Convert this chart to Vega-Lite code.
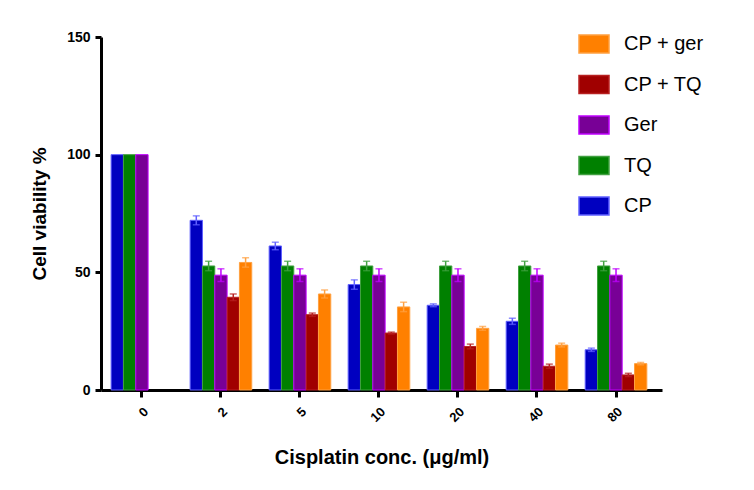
{
  "$schema": "https://vega.github.io/schema/vega-lite/v6.json",
  "width": 561,
  "height": 353,
  "autosize": {"type": "none"},
  "padding": {"left": 101, "top": 37, "right": 92, "bottom": 100},
  "background": "white",
  "config": {"view": {"stroke": null}, "font": "Liberation Sans"},
  "data": {
    "values": [
      {"conc": "0", "series": "CP", "value": 100, "lo": null, "hi": null},
      {"conc": "0", "series": "TQ", "value": 100, "lo": null, "hi": null},
      {"conc": "0", "series": "Ger", "value": 100, "lo": null, "hi": null},
      {"conc": "2", "series": "CP", "value": 72.1, "lo": 70.2, "hi": 74.0},
      {"conc": "2", "series": "TQ", "value": 52.7, "lo": 50.7, "hi": 54.7},
      {"conc": "2", "series": "Ger", "value": 48.8, "lo": 46.1, "hi": 51.5},
      {"conc": "2", "series": "CP + TQ", "value": 39.4, "lo": 38.0, "hi": 40.8},
      {"conc": "2", "series": "CP + ger", "value": 54.2, "lo": 52.2, "hi": 56.2},
      {"conc": "5", "series": "CP", "value": 61.2, "lo": 59.6, "hi": 62.8},
      {"conc": "5", "series": "TQ", "value": 52.7, "lo": 50.7, "hi": 54.7},
      {"conc": "5", "series": "Ger", "value": 48.8, "lo": 46.1, "hi": 51.5},
      {"conc": "5", "series": "CP + TQ", "value": 32.0, "lo": 31.3, "hi": 32.7},
      {"conc": "5", "series": "CP + ger", "value": 40.8, "lo": 39.1, "hi": 42.5},
      {"conc": "10", "series": "CP", "value": 44.8, "lo": 42.8, "hi": 46.8},
      {"conc": "10", "series": "TQ", "value": 52.7, "lo": 50.7, "hi": 54.7},
      {"conc": "10", "series": "Ger", "value": 48.8, "lo": 46.1, "hi": 51.5},
      {"conc": "10", "series": "CP + TQ", "value": 24.2, "lo": 23.8, "hi": 24.6},
      {"conc": "10", "series": "CP + ger", "value": 35.3, "lo": 33.3, "hi": 37.3},
      {"conc": "20", "series": "CP", "value": 36.0, "lo": 35.4, "hi": 36.6},
      {"conc": "20", "series": "TQ", "value": 52.7, "lo": 50.7, "hi": 54.7},
      {"conc": "20", "series": "Ger", "value": 48.8, "lo": 46.1, "hi": 51.5},
      {"conc": "20", "series": "CP + TQ", "value": 18.5, "lo": 17.5, "hi": 19.5},
      {"conc": "20", "series": "CP + ger", "value": 26.2, "lo": 25.4, "hi": 27.0},
      {"conc": "40", "series": "CP", "value": 29.2, "lo": 27.9, "hi": 30.5},
      {"conc": "40", "series": "TQ", "value": 52.7, "lo": 50.7, "hi": 54.7},
      {"conc": "40", "series": "Ger", "value": 48.8, "lo": 46.1, "hi": 51.5},
      {"conc": "40", "series": "CP + TQ", "value": 10.1, "lo": 9.2, "hi": 11.0},
      {"conc": "40", "series": "CP + ger", "value": 19.1, "lo": 18.3, "hi": 19.9},
      {"conc": "80", "series": "CP", "value": 17.1, "lo": 16.4, "hi": 17.8},
      {"conc": "80", "series": "TQ", "value": 52.7, "lo": 50.7, "hi": 54.7},
      {"conc": "80", "series": "Ger", "value": 48.8, "lo": 46.1, "hi": 51.5},
      {"conc": "80", "series": "CP + TQ", "value": 6.4, "lo": 5.7, "hi": 7.1},
      {"conc": "80", "series": "CP + ger", "value": 11.2, "lo": 10.7, "hi": 11.7}
    ]
  },
  "encoding": {
    "x": {
      "field": "conc",
      "type": "ordinal",
      "sort": ["0", "2", "5", "10", "20", "40", "80"],
      "scale": {"paddingInner": 0.22, "paddingOuter": 0.16, "align": 0.4},
      "axis": {
        "title": "Cisplatin conc. (μg/ml)",
        "labelAngle": -45,
        "labelFont": "Liberation Sans",
        "labelFontSize": 13,
        "labelFontWeight": "bold",
        "labelColor": "black",
        "labelPadding": 8,
        "domainColor": "black",
        "domainWidth": 3,
        "tickColor": "black",
        "tickWidth": 3,
        "tickSize": 7,
        "titleFont": "Liberation Sans",
        "titleFontSize": 20,
        "titleFontWeight": "bold",
        "titleColor": "black",
        "titleY": 67,
        "titleBaseline": "middle",
        "grid": false
      }
    },
    "xOffset": {
      "field": "series",
      "type": "nominal",
      "scale": {"domain": ["CP", "TQ", "Ger", "CP + TQ", "CP + ger"], "paddingInner": 0, "paddingOuter": 0}
    }
  },
  "layer": [
    {
      "mark": {"type": "bar", "strokeWidth": 1},
      "encoding": {
        "y": {
          "field": "value",
          "type": "quantitative",
          "title": "Cell viability %",
          "scale": {"domain": [0, 150], "nice": false},
          "axis": {
            "values": [0, 50, 100, 150],
            "labelFont": "Liberation Sans",
            "labelFontSize": 14,
            "labelFontWeight": "bold",
            "labelColor": "black",
            "labelPadding": 5,
            "domainColor": "black",
            "domainWidth": 3,
            "tickColor": "black",
            "tickWidth": 3,
            "tickSize": 6,
            "titleFont": "Liberation Sans",
            "titleFontSize": 19,
            "titleFontWeight": "bold",
            "titleColor": "black",
            "titlePadding": 17,
            "grid": false
          }
        },
        "fill": {
          "field": "series",
          "type": "nominal",
          "scale": {
            "domain": ["CP + ger", "CP + TQ", "Ger", "TQ", "CP"],
            "range": ["#ff8000", "#a00000", "#780096", "#008000", "#0000c0"]
          },
          "legend": {
            "orient": "none",
            "legendX": 477,
            "legendY": -9,
            "title": null,
            "padding": 0,
            "symbolType": "M-1,-0.6H1V0.6H-1Z",
            "symbolSize": 900,
            "symbolStrokeWidth": 1.5,
            "labelFont": "Liberation Sans",
            "labelFontSize": 20,
            "labelColor": "black",
            "labelOffset": 14,
            "rowPadding": 12.5
          }
        },
        "stroke": {
          "field": "series",
          "type": "nominal",
          "scale": {
            "domain": ["CP + ger", "CP + TQ", "Ger", "TQ", "CP"],
            "range": ["#ffa040", "#b82020", "#c000ff", "#40a040", "#6060ff"]
          },
          "legend": null
        }
      }
    },
    {
      "mark": {"type": "rule", "strokeWidth": 1.5},
      "encoding": {
        "y": {"field": "lo", "type": "quantitative", "title": "Cell viability %"},
        "y2": {"field": "hi"},
        "stroke": {"field": "series", "type": "nominal", "legend": null}
      }
    },
    {
      "mark": {"type": "tick", "thickness": 1.5, "size": 7},
      "encoding": {
        "y": {"field": "hi", "type": "quantitative", "title": "Cell viability %"},
        "color": {"field": "series", "type": "nominal", "legend": null,
          "scale": {
            "domain": ["CP + ger", "CP + TQ", "Ger", "TQ", "CP"],
            "range": ["#ffa040", "#b82020", "#c000ff", "#40a040", "#6060ff"]
          }}
      }
    },
    {
      "mark": {"type": "tick", "thickness": 1.5, "size": 7},
      "encoding": {
        "y": {"field": "lo", "type": "quantitative", "title": "Cell viability %"},
        "color": {"field": "series", "type": "nominal", "legend": null}
      }
    }
  ]
}
